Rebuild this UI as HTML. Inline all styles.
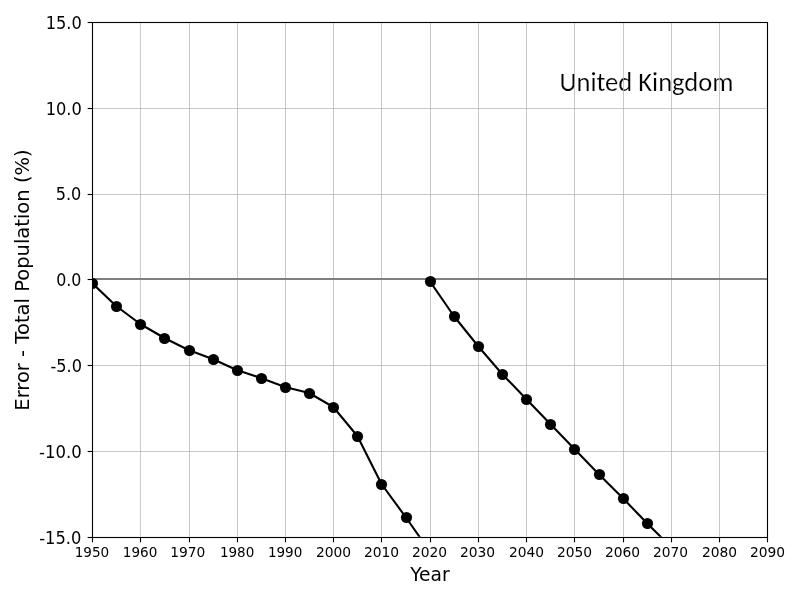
<!DOCTYPE html>
<html lang="en">
<head>
<meta charset="utf-8">
<title>United Kingdom - Error in Total Population</title>
<style>
html,body{margin:0;padding:0;background:#fff;}
body{width:800px;height:600px;overflow:hidden;}
svg{display:block;}
.t{font-family:"DejaVu Sans","Liberation Sans",sans-serif;fill:#000;}
.uk{font-family:Carlito,Calibri,"Liberation Sans",sans-serif;font-size-adjust:0.4775;fill:#000;}
</style>
</head>
<body>
<svg width="800" height="600" viewBox="0 0 800 600">
<rect x="0" y="0" width="800" height="600" fill="#ffffff"/>
<defs><clipPath id="ax"><rect x="92.028" y="22.000" width="675.410" height="514.722"/></clipPath></defs>
<text class="uk" stroke="#ffffff" stroke-width="0.2" font-size="26.390" text-anchor="middle" x="646.50" y="90.60" textLength="174.1" lengthAdjust="spacingAndGlyphs">United Kingdom</text>
<g stroke="#b0b0b0" stroke-width="0.694" fill="none">
<line x1="140.5" y1="22.00" x2="140.5" y2="536.72"/>
<line x1="189.5" y1="22.00" x2="189.5" y2="536.72"/>
<line x1="237.5" y1="22.00" x2="237.5" y2="536.72"/>
<line x1="285.5" y1="22.00" x2="285.5" y2="536.72"/>
<line x1="333.5" y1="22.00" x2="333.5" y2="536.72"/>
<line x1="381.5" y1="22.00" x2="381.5" y2="536.72"/>
<line x1="430.5" y1="22.00" x2="430.5" y2="536.72"/>
<line x1="478.5" y1="22.00" x2="478.5" y2="536.72"/>
<line x1="526.5" y1="22.00" x2="526.5" y2="536.72"/>
<line x1="574.5" y1="22.00" x2="574.5" y2="536.72"/>
<line x1="623.5" y1="22.00" x2="623.5" y2="536.72"/>
<line x1="671.5" y1="22.00" x2="671.5" y2="536.72"/>
<line x1="719.5" y1="22.00" x2="719.5" y2="536.72"/>
<line x1="92.03" y1="108.5" x2="767.44" y2="108.5"/>
<line x1="92.03" y1="194.5" x2="767.44" y2="194.5"/>
<line x1="92.03" y1="365.5" x2="767.44" y2="365.5"/>
<line x1="92.03" y1="451.5" x2="767.44" y2="451.5"/>
<line x1="92.03" y1="279.5" x2="767.44" y2="279.5"/>
</g>
<line x1="92.03" y1="279" x2="767.44" y2="279" stroke="#808080" stroke-width="2.083"/>
<g clip-path="url(#ax)">
<polyline points="92.03,283.00 116.15,306.00 140.27,324.00 164.39,338.00 188.51,350.00 212.64,359.00 236.76,370.00 260.88,378.00 285.00,387.00 309.12,393.00 333.25,407.00 357.37,436.00 381.49,484.00 405.61,517.00 429.73,551.31" fill="none" stroke="#000" stroke-width="2.083" stroke-linejoin="round" stroke-linecap="square"/>
<circle cx="92.5" cy="283.5" r="5.556" fill="#000"/>
<circle cx="116.5" cy="306.5" r="5.556" fill="#000"/>
<circle cx="140.5" cy="324.5" r="5.556" fill="#000"/>
<circle cx="164.5" cy="338.5" r="5.556" fill="#000"/>
<circle cx="189.5" cy="350.5" r="5.556" fill="#000"/>
<circle cx="213.5" cy="359.5" r="5.556" fill="#000"/>
<circle cx="237.5" cy="370.5" r="5.556" fill="#000"/>
<circle cx="261.5" cy="378.5" r="5.556" fill="#000"/>
<circle cx="285.5" cy="387.5" r="5.556" fill="#000"/>
<circle cx="309.5" cy="393.5" r="5.556" fill="#000"/>
<circle cx="333.5" cy="407.5" r="5.556" fill="#000"/>
<circle cx="357.5" cy="436.5" r="5.556" fill="#000"/>
<circle cx="381.5" cy="484.5" r="5.556" fill="#000"/>
<circle cx="406.5" cy="517.5" r="5.556" fill="#000"/>
<circle cx="430.5" cy="551.5" r="5.556" fill="#000"/>
<polyline points="429.73,281.00 453.85,316.00 477.98,346.00 502.10,374.00 526.22,399.00 550.34,424.00 574.46,449.00 598.59,474.00 622.71,498.00 646.83,523.00 670.95,547.02" fill="none" stroke="#000" stroke-width="2.083" stroke-linejoin="round" stroke-linecap="square"/>
<circle cx="430.5" cy="281.5" r="5.556" fill="#000"/>
<circle cx="454.5" cy="316.5" r="5.556" fill="#000"/>
<circle cx="478.5" cy="346.5" r="5.556" fill="#000"/>
<circle cx="502.5" cy="374.5" r="5.556" fill="#000"/>
<circle cx="526.5" cy="399.5" r="5.556" fill="#000"/>
<circle cx="550.5" cy="424.5" r="5.556" fill="#000"/>
<circle cx="574.5" cy="449.5" r="5.556" fill="#000"/>
<circle cx="599.5" cy="474.5" r="5.556" fill="#000"/>
<circle cx="623.5" cy="498.5" r="5.556" fill="#000"/>
<circle cx="647.5" cy="523.5" r="5.556" fill="#000"/>
<circle cx="671.5" cy="547.5" r="5.556" fill="#000"/>
</g>
<g stroke="#000" stroke-width="1.111" fill="none">
<line x1="92.5" y1="537.5" x2="92.5" y2="542.36"/>
<line x1="140.5" y1="537.5" x2="140.5" y2="542.36"/>
<line x1="189.5" y1="537.5" x2="189.5" y2="542.36"/>
<line x1="237.5" y1="537.5" x2="237.5" y2="542.36"/>
<line x1="285.5" y1="537.5" x2="285.5" y2="542.36"/>
<line x1="333.5" y1="537.5" x2="333.5" y2="542.36"/>
<line x1="381.5" y1="537.5" x2="381.5" y2="542.36"/>
<line x1="430.5" y1="537.5" x2="430.5" y2="542.36"/>
<line x1="478.5" y1="537.5" x2="478.5" y2="542.36"/>
<line x1="526.5" y1="537.5" x2="526.5" y2="542.36"/>
<line x1="574.5" y1="537.5" x2="574.5" y2="542.36"/>
<line x1="623.5" y1="537.5" x2="623.5" y2="542.36"/>
<line x1="671.5" y1="537.5" x2="671.5" y2="542.36"/>
<line x1="719.5" y1="537.5" x2="719.5" y2="542.36"/>
<line x1="767.5" y1="537.5" x2="767.5" y2="542.36"/>
<line x1="92.5" y1="22.5" x2="87.64" y2="22.5"/>
<line x1="92.5" y1="108.5" x2="87.64" y2="108.5"/>
<line x1="92.5" y1="194.5" x2="87.64" y2="194.5"/>
<line x1="92.5" y1="279.5" x2="87.64" y2="279.5"/>
<line x1="92.5" y1="365.5" x2="87.64" y2="365.5"/>
<line x1="92.5" y1="451.5" x2="87.64" y2="451.5"/>
<line x1="92.5" y1="537.5" x2="87.64" y2="537.5"/>
<rect x="92.5" y="22.5" width="675" height="515" />
</g>
<g class="t" font-size="13.889" text-anchor="middle">
<text id="x1950" transform="translate(91.89 557.00) scale(0.978 1.055)">1950</text>
<text id="x1960" transform="translate(140.07 557.00) scale(0.975 1.030)">1960</text>
<text id="x1970" transform="translate(187.81 557.00) scale(0.995 1.030)">1970</text>
<text id="x1980" transform="translate(237.06 557.00) scale(0.973 1.045)">1980</text>
<text id="x1990" transform="translate(285.11 557.00) scale(0.973 1.058)">1990</text>
<text id="x2000" transform="translate(333.55 557.00) scale(0.995 1.032)">2000</text>
<text id="x2010" transform="translate(381.54 557.00) scale(1.000 1.025)">2010</text>
<text id="x2020" transform="translate(429.53 557.00) scale(0.995 1.048)">2020</text>
<text id="x2030" transform="translate(477.53 557.00) scale(0.995 1.045)">2030</text>
<text id="x2040" transform="translate(526.52 557.00) scale(0.993 1.032)">2040</text>
<text id="x2050" transform="translate(574.51 557.00) scale(0.995 1.048)">2050</text>
<text id="x2060" transform="translate(622.51 557.00) scale(0.995 1.035)">2060</text>
<text id="x2070" transform="translate(670.50 557.00) scale(0.993 0.998)">2070</text>
<text id="x2080" transform="translate(719.49 557.00) scale(0.995 1.035)">2080</text>
<text id="x2090" transform="translate(767.49 557.00) scale(0.995 1.042)">2090</text>
</g>
<g class="t" font-size="16.667" text-anchor="end">
<text id="y15" transform="translate(81.80 28.90) scale(0.975 1.075)">15.0</text>
<text id="y10" transform="translate(81.80 114.69) scale(0.975 1.083)">10.0</text>
<text id="y5" transform="translate(81.30 199.97) scale(0.968 1.060)">5.0</text>
<text id="y0" transform="translate(81.30 285.76) scale(0.950 1.060)">0.0</text>
<text id="y-5" transform="translate(81.92 371.55) scale(0.968 1.100)">-5.0</text>
<text id="y-10" transform="translate(81.67 457.83) scale(0.990 1.077)">-10.0</text>
<text id="y-15" transform="translate(81.30 543.62) scale(0.978 1.040)">-15.0</text>
</g>
<text id="xl" class="t" font-size="19.444" text-anchor="middle" transform="translate(429.95 581.00) scale(0.960 0.980)">Year</text>
<text id="yl" class="t" font-size="19.444" text-anchor="middle" transform="translate(28.60 280.02) rotate(-90) scale(1.005 0.985)">Error - Total Population (%)</text>
</svg>
</body>
</html>
